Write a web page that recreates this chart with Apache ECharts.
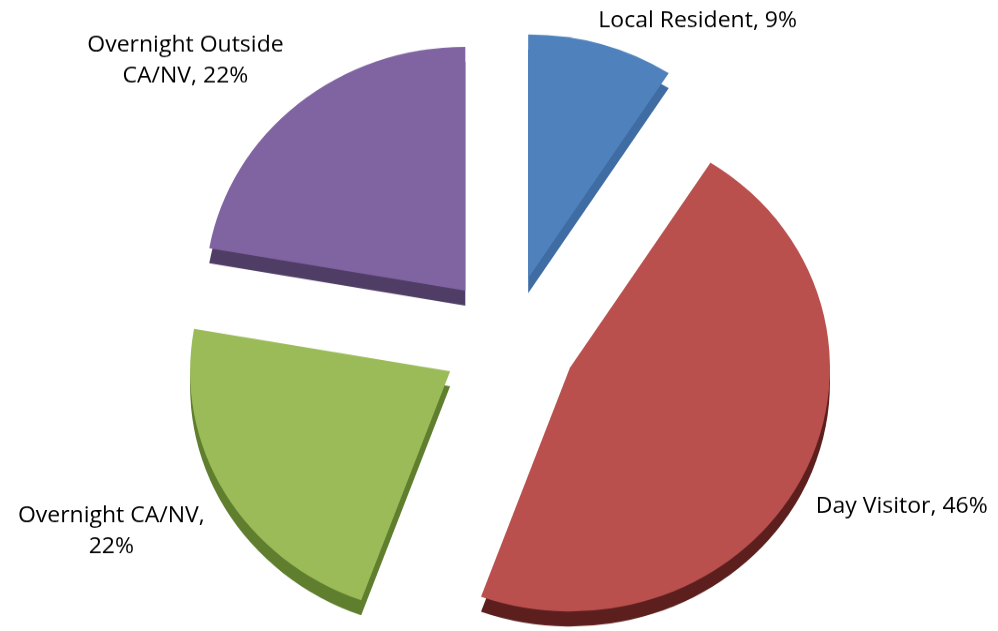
<!DOCTYPE html>
<html>
<head>
<meta charset="utf-8">
<title>Visitor type</title>
<script src="https://cdn.jsdelivr.net/npm/echarts@6/dist/echarts.min.js"></script>
<style>
  html, body { margin: 0; padding: 0; background: #ffffff; overflow: hidden; }
  /* the pie is viewed from slightly above, so the whole drawing is flattened a little */
  #chart { width: 998px; height: 673px; transform: scaleY(0.9375); transform-origin: 0 0; }
</style>
</head>
<body>
<div id="chart"></div>
<script>
// Visitor categories and their shares (percent)
const categories = ['Local Resident', 'Day Visitor', 'Overnight CA/NV', 'Overnight Outside CA/NV'];
const shares = [9, 46, 22, 22];
const labelLines = [
  ['Local Resident, 9%'],
  ['Day Visitor, 46%'],
  ['Overnight CA/NV,', '22%'],
  ['Overnight Outside', 'CA/NV, 22%']
];

// Face and side colours of each slice
const faceColors = ['#4F81BD', '#B9504D', '#9BBB59', '#8064A2'];
const sideColors = ['#3E6CA3', '#5C1F1E', '#5F7E2E', '#4F3D66'];

// Label placement: leader length (leader hidden) and a small nudge
const leaderLen = [28, 30, 40, 40];
const labelNudge = [[-16, 2], [-19, 19], [26, 21], [18, -15]];

const CX = 509, CY = 362, R = 260, DEPTH = 16, EXPLODE = 68;
const FONT = '"Open Sans", Lato, sans-serif';
const FONT_SIZE = 23;

const chart = echarts.init(document.getElementById('chart'), null, { renderer: 'canvas' });

function slices(colors, withLabels) {
  return categories.map((name, i) => {
    // two-line labels keep their lines centred on each other
    const style = labelLines[i].length > 1 ? 'm' : 's';
    return {
      name: name,
      value: shares[i],
      selected: true,
      itemStyle: { color: colors[i] },
      label: withLabels ? {
        show: true,
        formatter: labelLines[i].map(t => '{' + style + '|' + t + '}').join('\n')
      } : { show: false },
      labelLine: { show: false, length: leaderLen[i], length2: 0 }
    };
  });
}

const common = {
  type: 'pie',
  radius: R,
  startAngle: 90,
  clockwise: true,
  selectedMode: 'multiple',
  selectedOffset: EXPLODE,
  avoidLabelOverlap: false,
  emphasis: { disabled: true },
  animation: false,
  silent: true
};

const textStyle = { color: '#000000', fontFamily: FONT, fontSize: FONT_SIZE, lineHeight: 33 };

chart.setOption({
  backgroundColor: '#ffffff',
  animation: false,
  series: [
    Object.assign({}, common, {
      name: 'side',
      center: [CX, CY + DEPTH],
      z: 1,
      data: slices(sideColors, false)
    }),
    Object.assign({}, common, {
      name: 'face',
      center: [CX, CY],
      z: 2,
      label: Object.assign({
        position: 'outside',
        distanceToLabelLine: 5,
        rich: {
          s: Object.assign({}, textStyle),
          m: Object.assign({ width: 200, align: 'center' }, textStyle)
        }
      }, textStyle),
      labelLayout: function (p) {
        const n = labelNudge[p.dataIndex] || [0, 0];
        return { dx: n[0], dy: n[1] };
      },
      data: slices(faceColors, true)
    })
  ]
});
</script>
</body>
</html>
